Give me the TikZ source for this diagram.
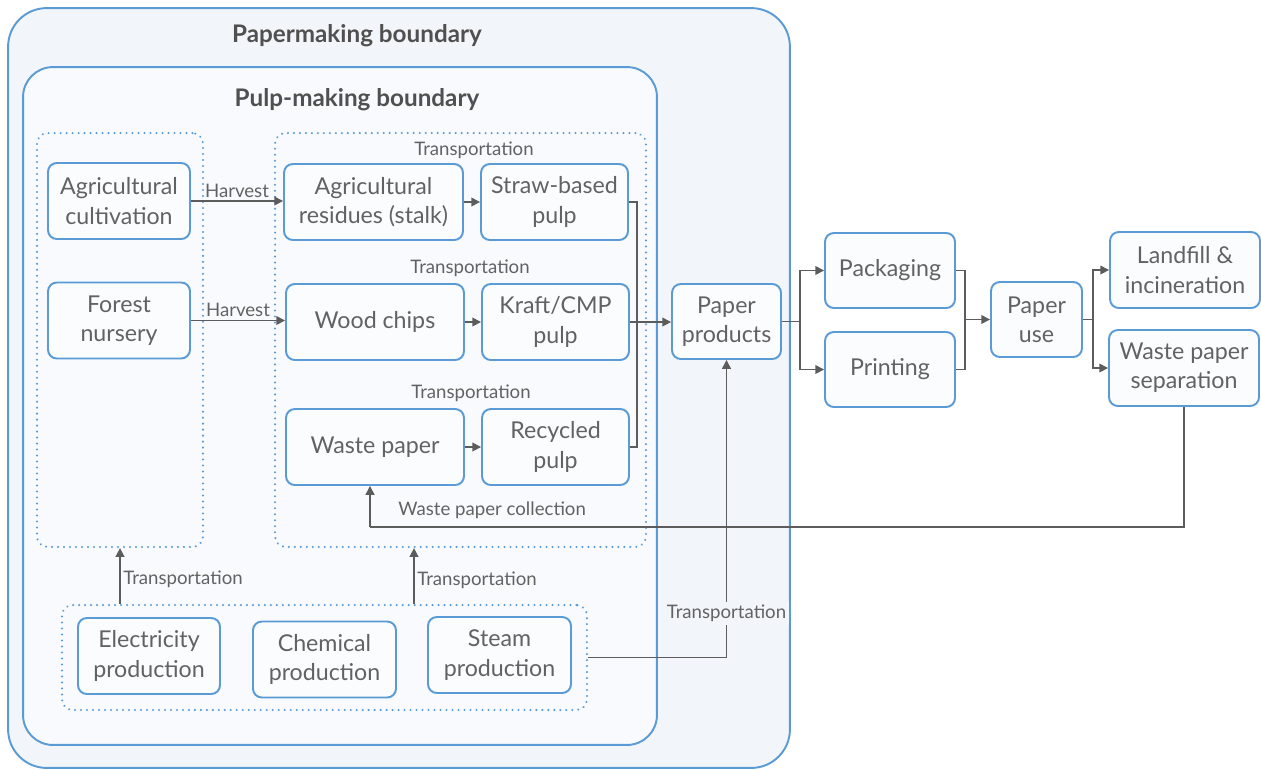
\documentclass[tikz,border=0pt]{standalone}
\usepackage{fontspec}
\setmainfont{Lato}
\usepackage{tikz}
\usetikzlibrary{positioning, arrows.meta}

\definecolor{bblue}{RGB}{91,155,213}
\definecolor{txtgray}{RGB}{98,98,98}
\definecolor{ttlgray}{RGB}{80,80,80}
\definecolor{lgray}{RGB}{92,92,92}
\definecolor{outerfill}{RGB}{242,246,250}
\definecolor{innerfill}{RGB}{248,250,253}
\definecolor{boxfill}{RGB}{250,252,254}

\tikzset{
  procbox/.style={draw=bblue, line width=1.1pt, fill=boxfill, rounded corners=5pt,
    align=center, text=txtgray, minimum height=1.52cm, inner sep=2pt,
    font=\fontsize{13.2}{16.6}\selectfont},
  grpbox/.style={draw=bblue, line width=1.3pt, dash pattern=on 0.01pt off 3.4pt,
    line cap=round, rounded corners=6pt, inner sep=0pt},
  bndbox/.style={draw=bblue, line width=1.1pt, inner sep=0pt},
  lbl/.style={text=txtgray, font=\fontsize{10.6}{12}\selectfont, inner sep=1.5pt},
  ttl/.style={text=ttlgray, font=\fontsize{13.8}{16}\selectfont\bfseries},
  flow/.style={draw=lgray, line width=0.85pt}
}

\begin{document}
\begin{tikzpicture}[x=0.02cm, y=-0.02cm, >={Triangle[length=5pt, width=5pt]}]
    \useasboundingbox (0,0) rectangle (1261,769);

    % boundaries
    \node[bndbox, fill=outerfill, rounded corners=22pt, minimum width=15.64cm, minimum height=15.2cm] (paperb) at (399,388) {};
    \node[bndbox, fill=innerfill, rounded corners=17pt, minimum width=12.68cm, minimum height=13.56cm] (pulpb) at (340,406) {};
    \node[ttl] (paperttl) at (357,36) {Papermaking boundary};
    \node[ttl] (pulpttl) at (357,100) {Pulp-making boundary};

    % dotted groups
    \node[grpbox, minimum width=3.32cm, minimum height=8.28cm] (lgrp) at (120,340) {};
    \node[grpbox, minimum width=7.42cm, minimum height=8.28cm] (mgrp) at (460.5,340) {};
    \node[grpbox, minimum width=10.5cm, minimum height=2.1cm] (bgrp) at (324.5,657.5) {};

    % raw material
    \node[procbox, minimum width=2.84cm] (agri) at (119,201) {Agricultural\\cultivation};
    \node[procbox, minimum width=2.84cm] (forest) at (119,320.5) {Forest\\nursery};

    % pulp
    \node[procbox, minimum width=3.58cm] (resid) at (373.5,202) {Agricultural\\residues (stalk)};
    \node[procbox, minimum width=2.94cm] (straw) at (554.5,202) {Straw-based\\pulp};
    \node[procbox, minimum width=3.56cm] (wood) at (375,322) {Wood chips};
    \node[procbox, minimum width=2.94cm] (kraft) at (555.5,322) {Kraft/CMP\\pulp};
    \node[procbox, minimum width=3.56cm] (waste) at (375,447) {Waste paper};
    \node[procbox, minimum width=2.94cm] (recyc) at (555.5,447) {Recycled\\pulp};
    \node[lbl] (tr1) at (474,150) {Transportation};
    \node[lbl] (tr2) at (470,268) {Transportation};
    \node[lbl] (tr3) at (471,393) {Transportation};

    % utilities
    \node[procbox, minimum width=2.84cm] (elec) at (149,656) {Electricity\\production};
    \node[procbox, minimum width=2.86cm] (chem) at (324.5,659.5) {Chemical\\production};
    \node[procbox, minimum width=2.86cm] (steam) at (499.5,655) {Steam\\production};

    % products and use
    \node[procbox, minimum width=2.18cm, minimum height=1.5cm] (prod) at (726.5,321.5) {Paper\\products};
    \node[procbox, minimum width=2.6cm, minimum height=1.5cm] (pack) at (890,270.5) {Packaging};
    \node[procbox, minimum width=2.6cm, minimum height=1.5cm] (print) at (890,369.5) {Printing};
    \node[procbox, minimum width=1.82cm, minimum height=1.5cm] (use) at (1036.5,319.5) {Paper\\use};
    \node[procbox, minimum width=3.0cm] (land) at (1185,270) {Landfill \&\\incineration};
    \node[procbox, minimum width=3.0cm] (wsep) at (1184,368) {Waste paper\\separation};

    % helper coordinates
    \coordinate (bus) at (637,0);
    \coordinate (s1) at (800,0);
    \coordinate (s2) at (965,0);
    \coordinate (s3) at (1093,0);
    \coordinate (mtap) at (414,0);
    \coordinate (wcol) at (370,527);

    % flows
    \draw[flow, ->] (agri.east) -- node[lbl, above] {Harvest} (agri.east -| resid.west);
    \draw[flow, ->] (forest.east) -- node[lbl, above] {Harvest} (forest.east -| wood.west);
    \draw[flow, ->] (resid) -- (straw);
    \draw[flow, ->] (wood) -- (kraft);
    \draw[flow, ->] (waste) -- (recyc);
    \draw[flow] (straw.east) -| (bus |- recyc.east) -- (recyc.east);
    \draw[flow, ->] (kraft.east) -- (kraft.east -| prod.west);
    \draw[flow, ->] (prod.east) -- (prod.east -| s1) |- (pack.west);
    \draw[flow, ->] (prod.east -| s1) |- (print.west);
    \draw[flow] (pack.east) -| (s2 |- print.east) -- (print.east);
    \draw[flow, ->] (s2 |- use.west) -- (use.west);
    \draw[flow, ->] (use.east) -- (use.east -| s3) |- (land.west);
    \draw[flow, ->] (use.east -| s3) |- (wsep.west);
    \draw[flow] (wsep.south) |- node[lbl, above, yshift=3pt, pos=0.925] {Waste paper collection} (wcol);
    \draw[flow, ->] (wcol) -- (wcol |- waste.south);
    \draw[flow, ->] (bgrp.north -| lgrp.south) -- node[lbl, right, pos=0.45] {Transportation} (lgrp.south);
    \draw[flow, ->] (bgrp.north -| mtap) -- node[lbl, right, pos=0.43] {Transportation} (mgrp.south -| mtap);
    \draw[flow, ->] (bgrp.east) -| node[lbl, fill=outerfill, pos=0.574] {Transportation} (prod.south);
\end{tikzpicture}
\end{document}
